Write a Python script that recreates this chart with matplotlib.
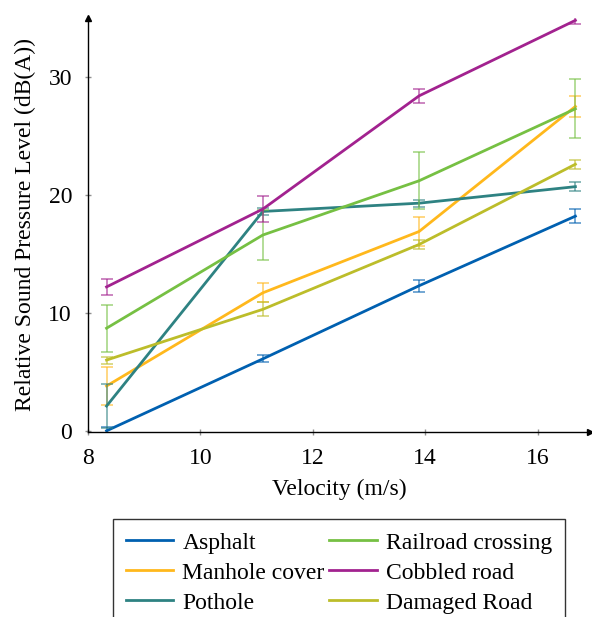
import numpy as np
import matplotlib
matplotlib.use("Agg")
import matplotlib.pyplot as plt

plt.rcParams['font.family'] = ['Liberation Serif', 'DejaVu Serif']
plt.rcParams['mathtext.fontset'] = 'stix'

velocity = [8.33, 11.11, 13.89, 16.67]

names = ["Asphalt", "Manhole cover", "Pothole",
         "Railroad crossing", "Cobbled road", "Damaged Road"]
colors = ["#0060b0", "#ffb81c", "#2e8282", "#76c043", "#a2228f", "#bcbd2a"]

asphalt = [0.0, 6.1, 12.3, 18.2]
asphalt_err = [0.3, 0.3, 0.5, 0.6]
manhole = [3.8, 11.7, 16.9, 27.5]
manhole_err = [1.6, 0.8, 1.2, 0.9]
pothole = [2.1, 18.6, 19.3, 20.7]
pothole_err = [1.9, 0.3, 0.3, 0.4]
railroad = [8.7, 16.6, 21.2, 27.3]
railroad_err = [2.0, 2.1, 2.4, 2.5]
cobbled = [12.2, 18.8, 28.4, 34.8]
cobbled_err = [0.65, 1.1, 0.6, 0.35]
damaged = [6.0, 10.3, 15.8, 22.6]
damaged_err = [0.3, 0.6, 0.4, 0.4]

series = [asphalt, manhole, pothole, railroad, cobbled, damaged]
errors = [asphalt_err, manhole_err, pothole_err, railroad_err, cobbled_err, damaged_err]

fig = plt.figure(figsize=(5.92, 6.17), dpi=100)
ax = fig.add_axes([88/592, 185/617, 502/592, 414/617])

lines = []
for y, e, c, n in zip(series, errors, colors, names):
    ax.errorbar(velocity, y, yerr=e, fmt='none', ecolor=c, alpha=0.55,
                capsize=4.5, elinewidth=1.4, capthick=1.4)
    l, = ax.plot(velocity, y, color=c, lw=2.0, label=n)
    lines.append(l)

ax.set_xlim(8, 16.93)
ax.set_ylim(-0.1, 35.0)
ax.set_xticks([8, 10, 12, 14, 16])
ax.set_yticks([0, 10, 20, 30])
ax.tick_params(direction='inout', length=5, width=1, color='#909090',
               labelsize=17, labelcolor='black')
ax.tick_params(axis='x', pad=9)
ax.tick_params(axis='y', pad=9)

for s in ['top', 'right']:
    ax.spines[s].set_visible(False)
for s in ['left', 'bottom']:
    ax.spines[s].set_linewidth(1.0)
ax.plot(1, -0.1, ">k", ms=5, transform=ax.get_yaxis_transform(), clip_on=False)
ax.plot(8, 1, "^k", ms=5, transform=ax.get_xaxis_transform(), clip_on=False)

ax.set_xlabel("Velocity (m/s)", fontsize=17, labelpad=7)
ax.set_ylabel("Relative Sound Pressure Level (dB(A))", fontsize=17, labelpad=9)

leg = fig.legend(lines, names,
                 loc='upper center', bbox_to_anchor=(339/592, 1 - 519/617),
                 ncol=2, fontsize=17, frameon=True, fancybox=False,
                 edgecolor='black', handlelength=2.0, columnspacing=0.2,
                 handletextpad=0.4, labelspacing=0.36, borderpad=0.55,
                 borderaxespad=0)
leg.get_frame().set_linewidth(1.0)

fig.savefig("out.png", dpi=100)
